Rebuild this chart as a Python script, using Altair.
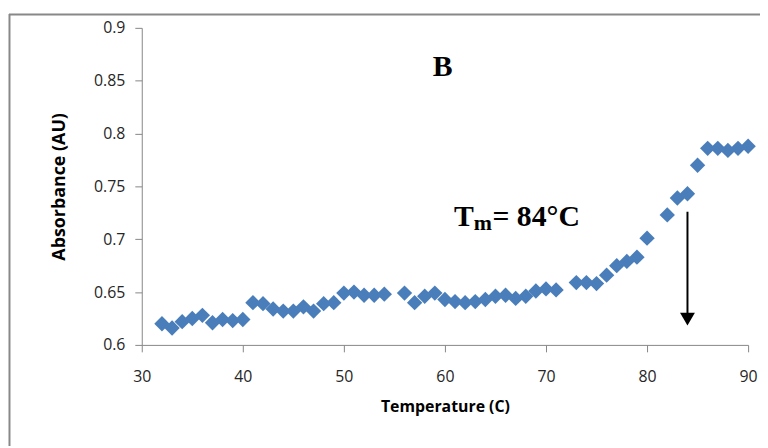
import altair as alt
import pandas as pd

# Data
temperature = [32, 33, 34, 35, 36, 37, 38, 39, 40, 41, 42, 43, 44, 45, 46, 47, 48, 49, 50,
               51, 52, 53, 54, 56, 57, 58, 59, 60, 61, 62, 63, 64, 65, 66, 67, 68, 69, 70,
               71, 73, 74, 75, 76, 77, 78, 79, 80, 82, 83, 84, 85, 86, 87, 88, 89, 90]
absorbance = [0.620, 0.616, 0.622, 0.625, 0.628, 0.621, 0.624, 0.623, 0.624, 0.640, 0.639,
              0.634, 0.632, 0.632, 0.636, 0.632, 0.639, 0.640, 0.649, 0.650, 0.647, 0.647,
              0.648, 0.649, 0.640, 0.646, 0.649, 0.643, 0.641, 0.640, 0.641, 0.643, 0.646,
              0.647, 0.644, 0.646, 0.651, 0.653, 0.652, 0.659, 0.659, 0.658, 0.666, 0.675,
              0.679, 0.683, 0.701, 0.723, 0.739, 0.743, 0.770, 0.786, 0.786, 0.784, 0.786, 0.788]

x_ticks = [30, 40, 50, 60, 70, 80, 90]
y_ticks = [0.6, 0.65, 0.7, 0.75, 0.8, 0.85, 0.9]

tm_value = 84
arrow_top = 0.726
arrow_bottom = 0.630
arrow_head = 0.6244

panel_label = "B"
panel_label_pos = (58.8, 0.854)
tm_T_pos = (60.9, 0.7125)
tm_sub_pos = (62.85, 0.7088)
tm_rest_pos = (64.7, 0.7125)

df = pd.DataFrame({"t": temperature, "a": absorbance})

xscale = alt.Scale(domain=[30, 90], nice=False, zero=False)
yscale = alt.Scale(domain=[0.6, 0.9], nice=False, zero=False)

axis_common = dict(
    domainColor="#868686", tickColor="#868686", grid=False, tickSize=7,
    labelFont="Open Sans", labelFontSize=16, labelColor="#262626", labelFlush=False,
    titleFont="Open Sans", titleFontWeight="bold", titleColor="#000000",
)

points = alt.Chart(df).mark_point(
    shape="diamond", filled=True, size=240, color="#4A7EBB", opacity=1
).encode(
    x=alt.X("t:Q", scale=xscale,
            axis=alt.Axis(values=x_ticks, title="Temperature (C)", labelPadding=17,
                          titleFontSize=16, titlePadding=14, **axis_common)),
    y=alt.Y("a:Q", scale=yscale,
            axis=alt.Axis(values=y_ticks, format="~g", title="Absorbance (AU)",
                          labelPadding=10, titleFontSize=18, titlePadding=25, **axis_common)),
)

arrow_df = pd.DataFrame({"t": [tm_value], "top": [arrow_top], "bottom": [arrow_bottom],
                         "head": [arrow_head]})
arrow = alt.Chart(arrow_df).mark_rule(color="black", strokeWidth=2).encode(
    x=alt.X("t:Q", scale=xscale), y=alt.Y("top:Q", scale=yscale), y2="bottom:Q")
head = alt.Chart(arrow_df).mark_point(
    shape="triangle-down", filled=True, color="black", size=225, opacity=1
).encode(x=alt.X("t:Q", scale=xscale), y=alt.Y("head:Q", scale=yscale))

def label(text, pos, size):
    d = pd.DataFrame({"t": [pos[0]], "a": [pos[1]], "txt": [text]})
    return alt.Chart(d).mark_text(
        font="Liberation Serif", fontWeight="bold", fontSize=size, color="black",
        align="left", baseline="alphabetic"
    ).encode(x=alt.X("t:Q", scale=xscale), y=alt.Y("a:Q", scale=yscale), text="txt:N")

texts = (label(panel_label, panel_label_pos, 30)
         + label("T", tm_T_pos, 30)
         + label("m", tm_sub_pos, 22)
         + label("= 84°C", tm_rest_pos, 30))

frame_top = alt.Chart(pd.DataFrame({"k": [0]})).mark_rule(color="#888888", strokeWidth=2).encode(
    x=alt.value(-134), x2=alt.value(640), y=alt.value(-13.5))
frame_left = alt.Chart(pd.DataFrame({"k": [0]})).mark_rule(color="#888888", strokeWidth=2).encode(
    x=alt.value(-133.5), y=alt.value(-14), y2=alt.value(430))

chart = alt.layer(frame_top, frame_left, points, arrow, head, texts).properties(
    width=612, height=320,
    autosize=alt.AutoSizeParams(type="none"),
    padding={"left": 135, "top": 18, "right": 12, "bottom": 100},
    background="white",
).configure_view(stroke=None)

chart.save("out.html", embed_options={"renderer": "svg", "actions": False})
